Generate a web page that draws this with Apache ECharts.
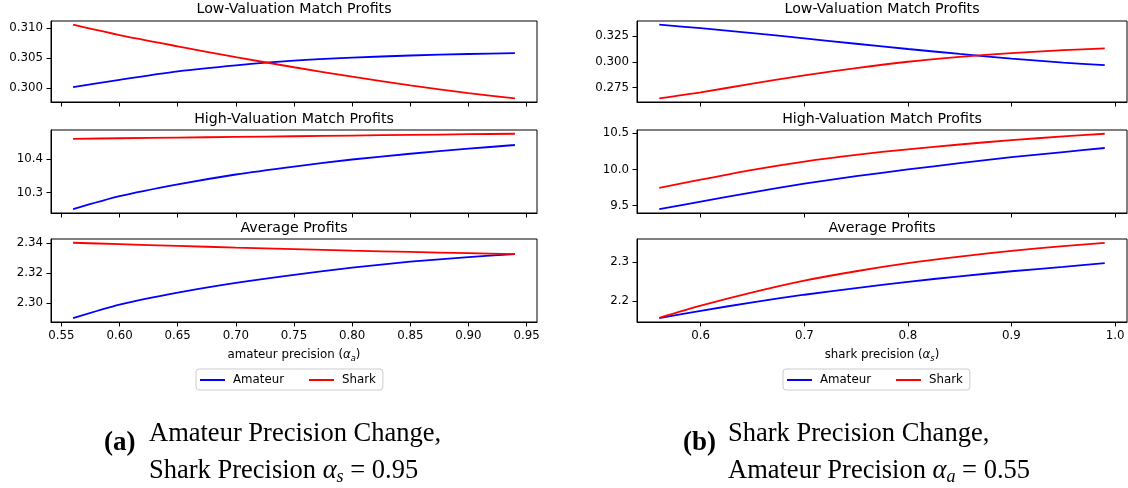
<!DOCTYPE html>
<html>
<head>
<meta charset="utf-8">
<script src="https://cdn.jsdelivr.net/npm/echarts@6/dist/echarts.min.js"></script>
<style>
html,body{margin:0;padding:0;background:#fff;}
#chart{width:1128px;height:488px;}
</style>
</head>
<body>
<div id="chart"></div>
<script>
// ---------- data ----------
const seriesNames = ['Amateur', 'Shark'];
const panelTitles = ['Low-Valuation Match Profits', 'High-Valuation Match Profits', 'Average Profits'];

// (a) amateur precision varies
const xAmateurPrecision = [0.56, 0.60, 0.65, 0.70, 0.75, 0.80, 0.85, 0.90, 0.94];
const aLowAmateur  = [0.30017, 0.3014, 0.3028, 0.3038, 0.30457, 0.30508, 0.30543, 0.30568, 0.30584];
const aLowShark    = [0.31054, 0.30881, 0.30695, 0.30516, 0.30348, 0.30192, 0.30048, 0.29920, 0.29833];
const aHighAmateur = [10.2505, 10.289, 10.324, 10.3535, 10.377, 10.398, 10.415, 10.430, 10.441];
const aHighShark   = [10.4594, 10.461, 10.463, 10.465, 10.467, 10.469, 10.471, 10.473, 10.4743];
const aAvgAmateur  = [2.2900, 2.2990, 2.3070, 2.3135, 2.3189, 2.3236, 2.3276, 2.3307, 2.3327];
const aAvgShark    = [2.3402, 2.3393, 2.3381, 2.3370, 2.3360, 2.3350, 2.3341, 2.3333, 2.3327];

// (b) shark precision varies
const xSharkPrecision = [0.56, 0.60, 0.65, 0.70, 0.75, 0.80, 0.85, 0.90, 0.95, 0.99];
const bLowAmateur  = [0.3361, 0.3327, 0.3280, 0.3228, 0.3176, 0.3125, 0.3077, 0.3032, 0.2993, 0.2968];
const bLowShark    = [0.2646, 0.2704, 0.2789, 0.2869, 0.2940, 0.3001, 0.3048, 0.3085, 0.3113, 0.3131];
const bHighAmateur = [9.449, 9.555, 9.683, 9.803, 9.907, 10.000, 10.088, 10.170, 10.242, 10.298];
const bHighShark   = [9.744, 9.858, 9.995, 10.110, 10.203, 10.280, 10.346, 10.407, 10.458, 10.495];
const bAvgAmateur  = [2.156, 2.175, 2.1965, 2.216, 2.233, 2.2490, 2.263, 2.276, 2.287, 2.2966];
const bAvgShark    = [2.157, 2.188, 2.222, 2.252, 2.276, 2.2966, 2.3135, 2.328, 2.340, 2.3487];

// tick labels
const xTicksA = [0.55, 0.60, 0.65, 0.70, 0.75, 0.80, 0.85, 0.90, 0.95];
const xTicksB = [0.6, 0.7, 0.8, 0.9, 1.0];
const aLowTicks  = [0.300, 0.305, 0.310];
const aHighTicks = [10.3, 10.4];
const aAvgTicks  = [2.30, 2.32, 2.34];
const bLowTicks  = [0.275, 0.300, 0.325];
const bHighTicks = [9.5, 10.0, 10.5];
const bAvgTicks  = [2.2, 2.3];

// ---------- layout / style ----------
const SANS = 'DejaVu Sans';
const SERIF = 'Liberation Serif';
const BLUE = '#0000ff', RED = '#ff0000';
const colLeft = {left: 51, width: 486, xs: xAmateurPrecision, xTicks: xTicksA, xDec: 2};
const colRight = {left: 637, width: 490, xs: xSharkPrecision, xTicks: xTicksB, xDec: 1};
const rows = [{top: 21, height: 81}, {top: 130, height: 83}, {top: 239, height: 83}];

const panels = [
  {col: colLeft, row: 0, ys: [aLowAmateur, aLowShark], ticks: aLowTicks, dec: 3},
  {col: colLeft, row: 1, ys: [aHighAmateur, aHighShark], ticks: aHighTicks, dec: 1},
  {col: colLeft, row: 2, ys: [aAvgAmateur, aAvgShark], ticks: aAvgTicks, dec: 2},
  {col: colRight, row: 0, ys: [bLowAmateur, bLowShark], ticks: bLowTicks, dec: 3},
  {col: colRight, row: 1, ys: [bHighAmateur, bHighShark], ticks: bHighTicks, dec: 1},
  {col: colRight, row: 2, ys: [bAvgAmateur, bAvgShark], ticks: bAvgTicks, dec: 1}
];

function paddedRange(arrays) {
  const all = [].concat(...arrays);
  const mn = Math.min(...all), mx = Math.max(...all);
  const m = (mx - mn) * 0.05;
  return [mn - m, mx + m];
}

const grids = [], xAxes = [], yAxes = [], series = [];
const labelStyle = {color: '#000', fontSize: 11.8, fontFamily: SANS};

panels.forEach((p, i) => {
  const r = rows[p.row];
  grids.push({left: p.col.left, width: p.col.width, top: r.top, height: r.height,
    show: true, borderColor: '#000', borderWidth: 1, backgroundColor: 'transparent'});
  const xr = paddedRange([p.col.xs]);
  const yr = paddedRange(p.ys);
  xAxes.push({type: 'value', gridIndex: i, min: xr[0], max: xr[1],
    axisLine: {show: true, onZero: false, lineStyle: {color: '#000', width: 1}},
    axisTick: {show: true, length: 4.5, lineStyle: {color: '#000', width: 1}, customValues: p.col.xTicks},
    axisLabel: Object.assign({show: p.row === 2, margin: 8, customValues: p.col.xTicks,
      formatter: v => Number(v).toFixed(p.col.xDec)}, labelStyle),
    splitLine: {show: false}});
  yAxes.push({type: 'value', gridIndex: i, min: yr[0], max: yr[1],
    axisLine: {show: true, onZero: false, lineStyle: {color: '#000', width: 1}},
    axisTick: {show: true, length: 4.5, lineStyle: {color: '#000', width: 1}, customValues: p.ticks},
    axisLabel: Object.assign({show: true, margin: 8, customValues: p.ticks,
      formatter: v => Number(v).toFixed(p.dec)}, labelStyle),
    splitLine: {show: false}});
  [BLUE, RED].forEach((c, k) => {
    series.push({type: 'line', name: seriesNames[k], xAxisIndex: i, yAxisIndex: i,
      data: p.col.xs.map((x, j) => [x, p.ys[k][j]]),
      showSymbol: false, symbol: 'none', smooth: 0.25,
      lineStyle: {color: c, width: 1.8}, itemStyle: {color: c}, z: 3 + k});
  });
});

function legendAt(left) {
  return {data: seriesNames, left: left, top: 369, orient: 'horizontal',
    icon: 'rect', itemWidth: 25, itemHeight: 2, itemGap: 25,
    padding: [5, 7, 4, 4], borderColor: '#cccccc', borderWidth: 1, borderRadius: 3,
    backgroundColor: '#fff', selectedMode: false,
    textStyle: {fontSize: 11.8, fontFamily: SANS, color: '#000', padding: [0, 0, 0, 3]}};
}

const graphics = [];
function addText(x, y, text, opts) {
  graphics.push({type: 'text', x: x, y: y, silent: true,
    style: Object.assign({text: text, fill: '#000', align: 'center', verticalAlign: 'middle',
      textAlign: 'center', textVerticalAlign: 'middle'}, opts)});
}
// panel titles
[colLeft, colRight].forEach(col => {
  const cx = col.left + col.width / 2;
  [9, 119, 228].forEach((y, k) => addText(cx, y, panelTitles[k], {fontSize: 14.2, fontFamily: SANS}));
});
// axis names with math subscripts
const axisRich = {
  n: {fontSize: 11.8, fontFamily: SANS, lineHeight: 16, verticalAlign: 'middle'},
  g: {fontSize: 11.8, fontFamily: SANS, fontStyle: 'italic', lineHeight: 16, verticalAlign: 'middle'},
  s: {fontSize: 8.3, fontFamily: SANS, fontStyle: 'italic', lineHeight: 10, verticalAlign: 'bottom'}
};
addText(colLeft.left + colLeft.width / 2, 355, '{n|amateur precision (}{g|α}{s|a}{n|)}', {rich: axisRich, fontSize: 11.8, fontFamily: SANS});
addText(colRight.left + colRight.width / 2, 355, '{n|shark precision (}{g|α}{s|s}{n|)}', {rich: axisRich, fontSize: 11.8, fontFamily: SANS});

// captions
const capRich = {
  n: {fontSize: 26.5, fontFamily: SERIF, lineHeight: 30, verticalAlign: 'middle'},
  g: {fontSize: 26.5, fontFamily: SERIF, fontStyle: 'italic', lineHeight: 30, verticalAlign: 'middle'},
  s: {fontSize: 18, fontFamily: SERIF, fontStyle: 'italic', lineHeight: 20, verticalAlign: 'bottom'}
};
function caption(tagX, textX, tag, line1, line2sym, line2sub, line2val) {
  graphics.push({type: 'text', x: tagX, y: 443, silent: true,
    style: {text: tag, fill: '#000', fontSize: 27, fontWeight: 'bold', fontFamily: SERIF,
      align: 'left', verticalAlign: 'middle', textAlign: 'left', textVerticalAlign: 'middle'}});
  graphics.push({type: 'text', x: textX, y: 434, silent: true,
    style: {text: line1, fill: '#000', fontSize: 26.5, fontFamily: SERIF,
      align: 'left', verticalAlign: 'middle', textAlign: 'left', textVerticalAlign: 'middle'}});
  graphics.push({type: 'text', x: textX, y: 471, silent: true,
    style: {text: '{n|' + line2sym + ' }{g|α}{s|' + line2sub + '}{n| = ' + line2val + '}', rich: capRich,
      fill: '#000', fontSize: 26.5, fontFamily: SERIF,
      align: 'left', verticalAlign: 'middle', textAlign: 'left', textVerticalAlign: 'middle'}});
}
caption(104, 149, '(a)', 'Amateur Precision Change,', 'Shark Precision', 's', '0.95');
caption(683, 728, '(b)', 'Shark Precision Change,', 'Amateur Precision', 'a', '0.55');

const chart = echarts.init(document.getElementById('chart'), null, {renderer: 'canvas'});
chart.setOption({
  animation: false,
  backgroundColor: '#ffffff',
  grid: grids,
  xAxis: xAxes,
  yAxis: yAxes,
  series: series,
  legend: [legendAt(196), legendAt(783)],
  graphic: graphics
});
</script>
</body>
</html>
